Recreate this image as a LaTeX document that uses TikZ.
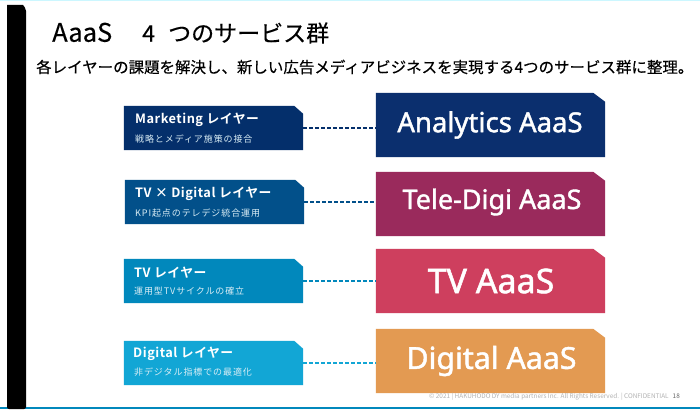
\documentclass[tikz,border=0pt]{standalone}
\usepackage{fontspec}
\setmainfont{Noto Sans CJK JP}[BoldFont={Noto Sans CJK JP Bold}]
\newfontfamily\cjkmed[FakeBold=0.35]{Noto Sans CJK JP}
\newfontfamily\cjksub[LetterSpace=10]{Noto Sans CJK JP}
\newfontfamily\cjkhead[LetterSpace=4]{Noto Sans CJK JP Bold}
\newfontfamily\latinf[FakeBold=1.5]{Noto Sans}
\definecolor{c1}{HTML}{042F6B}
\definecolor{c2}{HTML}{02508A}
\definecolor{c3}{HTML}{0188BC}
\definecolor{c4}{HTML}{12A6D5}
\definecolor{r1}{HTML}{0B2F6E}
\definecolor{r2}{HTML}{9A2A5C}
\definecolor{r3}{HTML}{CE3F5E}
\definecolor{r4}{HTML}{E39A52}
\newcommand{\cutfill}[4]{\fill[#2] (#1.south west) -- (#1.north west) -- ([xshift=-#3pt]#1.north east) -- ([yshift=-#4pt]#1.north east) -- (#1.south east) -- cycle;}
\tikzset{
 x=1pt,y=-1pt,
 layerbox/.style={rectangle,minimum width=179pt,minimum height=44pt,inner sep=0pt},
 aaasbox/.style={rectangle,minimum width=229pt,minimum height=64pt,inner sep=0pt},
 layerhead/.style={anchor=west,inner sep=0pt,text=white,font=\cjkhead\fontsize{12.8}{14}\selectfont},
 layersub/.style={anchor=west,inner sep=0pt,text=white!85!c3,font=\cjksub\fontsize{9}{10}\selectfont},
 aaaslabel/.style={text=white,inner sep=0pt},
 conn/.style={draw=#1,line width=1.4pt,dash pattern=on 4pt off 2pt},
}
\begin{document}
\begin{tikzpicture}
\useasboundingbox (0,0) rectangle (700,409);
\fill[white] (0,0) rectangle (700,409);
\fill[blue!15!cyan!20] (0,0) rectangle (700,1.5);
\fill[c3] (0,407) rectangle (700,409);
\fill[black] (7,409) -- (7,5) -- (23,5) [rounded corners=2pt] -- (26,9) -- (26,409) -- cycle;
\node[anchor=west,inner sep=0pt,font=\cjkmed\fontsize{23}{26}\selectfont] (title) at (52,33) {{\fontsize{25.5}{26}\selectfont AaaS}\hspace{30pt}4\hspace{8pt} つのサービス群};
\node[anchor=west,inner sep=0pt,font=\cjkmed\fontsize{15.48}{18}\selectfont] (sub) at (36,67) {各レイヤーの課題を解決し、新しい広告メディアビジネスを実現する4つのサービス群に整理。};
\node[layerbox] (l1) at (213.5,128) {};
\node[layerbox] (l2) at (214.5,202) {};
\node[layerbox] (l3) at (213.5,281) {};
\node[layerbox] (l4) at (213.5,363) {};
\node[aaasbox] (a1) at (490.5,125) {};
\node[aaasbox] (a2) at (490.5,204) {};
\node[aaasbox] (a3) at (490.5,281) {};
\node[aaasbox] (a4) at (490.5,361) {};
\cutfill{l1}{c1}{9}{8}
\cutfill{l2}{c2}{9}{8}
\cutfill{l3}{c3}{9}{8}
\cutfill{l4}{c4}{9}{8}
\cutfill{a1}{r1}{12}{9}
\cutfill{a2}{r2}{12}{9}
\cutfill{a3}{r3}{12}{9}
\cutfill{a4}{r4}{12}{9}
\draw[conn=c1] (l1.east) -- (l1.east -| a1.west);
\draw[conn=c2] (l2.east) -- (l2.east -| a2.west);
\draw[conn=c3] (l3.east) -- (l3.east -| a3.west);
\draw[conn=c4] (l4.east) -- (l4.east -| a4.west);
\node[layerhead] (h1) at (135,120) {Marketing レイヤー};
\node[layersub] (s1) at (135,139) {戦略とメディア施策の接合};
\node[layerhead] (h2) at (135,194) {TV × Digital レイヤー};
\node[layersub] (s2) at (135,213) {KPI起点のテレデジ統合運用};
\node[layerhead] (h3) at (134,273) {TV レイヤー};
\node[layersub] (s3) at (134,291) {運用型TVサイクルの確立};
\node[layerhead] (h4) at (133,354) {Digital レイヤー};
\node[layersub] (s4) at (134,372) {非デジタル指標での最適化};
\node[aaaslabel,font=\latinf\fontsize{27.5}{32}\selectfont] (t1) at (490,125) {Analytics AaaS};
\node[aaaslabel,font=\latinf\fontsize{27}{32}\selectfont] (t2) at (492,202) {Tele-Digi AaaS};
\node[aaaslabel,font=\latinf\fontsize{34}{36}\selectfont] (t3) at (491,281) {TV AaaS};
\node[aaaslabel,font=\latinf\fontsize{30.3}{34}\selectfont] (t4) at (491.5,361) {Digital AaaS};
\node[anchor=east,inner sep=0pt,text=black!30,font=\fontsize{6.4}{7}\selectfont] (foot) at (680,396.5) {© 2021 | HAKUHODO DY media partners Inc. All Rights Reserved. | CONFIDENTIAL\hspace{4pt}\textcolor{black!60}{18}};
\end{tikzpicture}
\end{document}
